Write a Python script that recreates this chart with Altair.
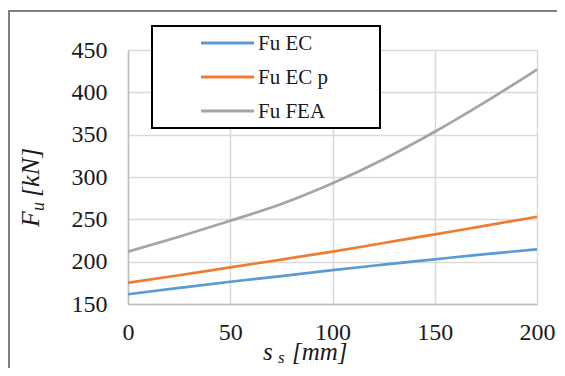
import altair as alt
import pandas as pd

# ---- data ----
ss_mm = [0, 25, 50, 75, 100, 125, 150, 175, 200]
fu_ec = [161.5, 169.0, 176.3, 183.0, 190.0, 196.5, 202.8, 209.0, 214.6]
fu_ec_p = [175.2, 184.0, 193.3, 202.5, 211.8, 222.0, 232.3, 242.5, 253.0]
fu_fea = [211.8, 229.5, 248.3, 268.0, 292.5, 321.0, 353.4, 389.0, 427.0]

series_names = ["Fu EC", "Fu EC p", "Fu FEA"]
series_colors = ["#5b9bd5", "#ed7d31", "#a5a5a5"]
x_ticks = [0, 50, 100, 150, 200]
y_ticks = [150, 200, 250, 300, 350, 400, 450]

rows = []
for name, vals in zip(series_names, [fu_ec, fu_ec_p, fu_fea]):
    for x, v in zip(ss_mm, vals):
        rows.append({"ss": x, "Fu": v, "series": name})
df = pd.DataFrame(rows)

W, H = 409, 254
FONT = "Liberation Serif"
TXT = "#1a1a1a"

lines = alt.Chart(df).mark_line(strokeWidth=2.7, interpolate="monotone").encode(
    x=alt.X("ss:Q", scale=alt.Scale(domain=[0, 200], nice=False),
            axis=alt.Axis(values=x_ticks, title=None, labelPadding=16,
                          labelFontSize=24, labelColor=TXT,
                          ticks=False, grid=True, gridColor="#d9d9d9", gridWidth=1.5,
                          domainColor="#bfbfbf", domainWidth=1.5, labelFlush=False)),
    y=alt.Y("Fu:Q", scale=alt.Scale(domain=[150, 450], nice=False, zero=False),
            axis=alt.Axis(values=y_ticks, title=None, labelPadding=21,
                          labelFontSize=24, labelColor=TXT,
                          ticks=False, grid=True, gridColor="#d9d9d9", gridWidth=1.5,
                          domainColor="#bfbfbf", domainWidth=1.5, labelFlush=False)),
    color=alt.Color("series:N", scale=alt.Scale(domain=series_names, range=series_colors),
                    legend=None),
)

one = pd.DataFrame({"a": [0]})

frame = alt.Chart(one).mark_rect(fill=None, stroke="#7f7f7f", strokeWidth=2, clip=False).encode(
    x=alt.value(-119), x2=alt.value(W + 60), y=alt.value(-39), y2=alt.value(H + 100)
)

legend_box = alt.Chart(one).mark_rect(fill="white", stroke="black", strokeWidth=2).encode(
    x=alt.value(24), x2=alt.value(252), y=alt.value(-24), y2=alt.value(78)
)

layers = [frame, lines, legend_box]
row_y = [-7, 27, 61]
for name, col, yy in zip(series_names, series_colors, row_y):
    layers.append(alt.Chart(one).mark_rule(stroke=col, strokeWidth=3).encode(
        x=alt.value(73), x2=alt.value(126), y=alt.value(yy)))
    layers.append(alt.Chart(one).mark_text(text=name, fontSize=21, align="left",
                                           baseline="middle", color=TXT).encode(
        x=alt.value(130), y=alt.value(yy + 1)))


def txt(s, size, x, y, angle=0):
    kw = dict(text=s, fontSize=size, fontStyle="italic", align="left",
              baseline="alphabetic", color=TXT)
    if angle:
        kw["angle"] = angle
    return alt.Chart(one).mark_text(**kw).encode(x=alt.value(x), y=alt.value(y))


# y-axis title  F_u [kN]
layers.append(txt("F", 26, -89, 177, 270))
layers.append(txt("u", 18, -84, 161, 270))
layers.append(txt("[kN]", 26, -89, 147, 270))

# x-axis title  s_s [mm]
layers.append(txt("s", 25, 135, 310))
layers.append(txt("s", 17, 150, 313))
layers.append(txt("[mm]", 25, 164, 310))

chart = alt.layer(*layers).properties(
    width=W, height=H,
    autosize=alt.AutoSizeParams(type="none"),
    padding={"left": 120, "top": 42, "right": 20, "bottom": 64},
).configure(font=FONT).configure_view(stroke=None)

chart.save("out.html", embed_options={"renderer": "svg", "actions": False})
